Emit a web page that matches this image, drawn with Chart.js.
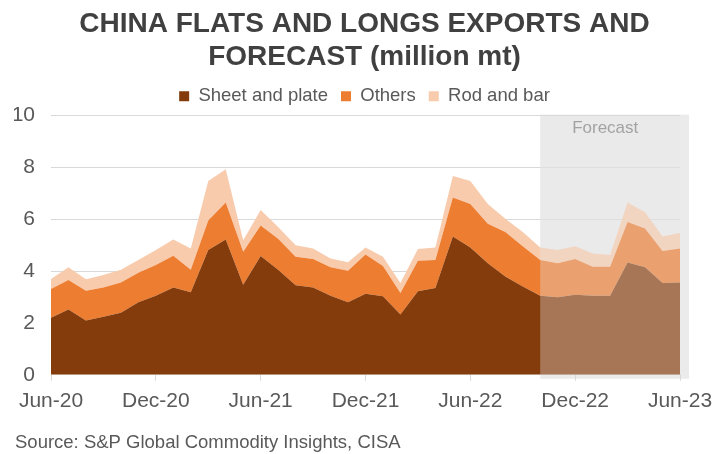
<!DOCTYPE html>
<html>
<head>
<meta charset="utf-8">
<script src="https://cdn.jsdelivr.net/npm/chart.js@4"></script>
<style>
  html, body { margin: 0; padding: 0; background: #fff; }
  #wrap { width: 715px; height: 454px; position: relative; }
</style>
</head>
<body>
<div id="wrap"><canvas id="chExports"></canvas></div>
<script>
const months = ['Jun-20','Jul-20','Aug-20','Sep-20','Oct-20','Nov-20','Dec-20','Jan-21','Feb-21','Mar-21','Apr-21','May-21',
  'Jun-21','Jul-21','Aug-21','Sep-21','Oct-21','Nov-21','Dec-21','Jan-22','Feb-22','Mar-22','Apr-22','May-22',
  'Jun-22','Jul-22','Aug-22','Sep-22','Oct-22','Nov-22','Dec-22','Jan-23','Feb-23','Mar-23','Apr-23','May-23','Jun-23'];

// million mt per month
const sheetPlate = [2.20,2.52,2.09,2.24,2.39,2.80,3.05,3.37,3.18,4.81,5.22,3.47,
  4.58,4.05,3.45,3.37,3.05,2.80,3.13,3.03,2.33,3.22,3.35,5.34,
  4.91,4.30,3.79,3.41,3.05,2.99,3.09,3.05,3.05,4.33,4.15,3.54,3.56];
const others = [1.11,1.14,1.15,1.13,1.17,1.14,1.19,1.22,0.87,1.14,1.43,1.28,
  1.18,1.20,1.10,1.10,1.10,1.21,1.51,1.17,0.83,1.18,1.08,1.50,
  1.68,1.53,1.72,1.55,1.38,1.31,1.38,1.12,1.12,1.56,1.49,1.24,1.31];
const rodBar = [0.39,0.49,0.45,0.48,0.49,0.49,0.57,0.63,0.82,1.53,1.28,0.44,
  0.60,0.45,0.45,0.40,0.34,0.33,0.27,0.35,0.38,0.45,0.48,0.83,
  0.89,0.76,0.51,0.55,0.48,0.51,0.49,0.51,0.45,0.76,0.63,0.56,0.60];
const yTicks = [0, 2, 4, 6, 8, 10];
const forecastFrom = 'Oct-22';
const source = 'Source: S&P Global Commodity Insights, CISA';

const FONT = "'Liberation Sans', Arial, sans-serif";
const GREY = '#595959';

// grey forecast band behind the grid, then a light wash over the forecast areas
const forecastBand = {
  id: 'forecastBand',
  beforeDraw(chart) {
    const { ctx, chartArea: a, scales: { x } } = chart;
    const x0 = x.getPixelForValue(months.indexOf(forecastFrom));
    ctx.save();
    ctx.fillStyle = '#EBEBEB';
    ctx.fillRect(x0, a.top - 1, a.right + 9 - x0, a.bottom - a.top + 5);
    ctx.fillStyle = '#7F7F7F';
    ctx.font = '17px ' + FONT;
    ctx.textAlign = 'center';
    ctx.textBaseline = 'middle';
    ctx.fillText('Forecast', x0 + 65, a.top + 13);
    ctx.restore();
  },
  afterDatasetsDraw(chart) {
    const { ctx, chartArea: a, scales: { x } } = chart;
    const x0 = x.getPixelForValue(months.indexOf(forecastFrom));
    ctx.save();
    ctx.fillStyle = 'rgba(232,232,232,0.34)';
    ctx.fillRect(x0, a.top, a.right - x0, a.bottom - a.top);
    ctx.restore();
  },
  afterDraw(chart) {
    const { ctx } = chart;
    ctx.save();
    ctx.fillStyle = GREY;
    ctx.font = '18.5px ' + FONT;
    ctx.textAlign = 'left';
    ctx.textBaseline = 'middle';
    ctx.fillText(source, 15, 443);
    ctx.restore();
  }
};

function area(label, data, color, fill) {
  return { label, data, backgroundColor: color, borderColor: color, borderWidth: 0,
    pointRadius: 0, pointHoverRadius: 0, fill, tension: 0 };
}

new Chart(document.getElementById('chExports').getContext('2d'), {
  type: 'line',
  data: {
    labels: months,
    datasets: [
      area('Sheet and plate', sheetPlate, '#843C0C', 'origin'),
      area('Others', others, '#ED7D31', '-1'),
      area('Rod and bar', rodBar, '#F8CBAD', '-1')
    ]
  },
  options: {
    responsive: true,
    maintainAspectRatio: false,
    animation: false,
    layout: { padding: { left: 14, right: 0, top: 8, bottom: 32 } },
    plugins: {
      title: {
        display: true,
        text: ['CHINA FLATS AND LONGS EXPORTS AND', 'FORECAST (million mt)'],
        color: '#404040',
        font: { family: FONT, size: 28, weight: 'bold', lineHeight: 1.18 },
        padding: { top: 0, bottom: 0 }
      },
      legend: {
        position: 'top',
        labels: { color: GREY, boxWidth: 10, boxHeight: 10, padding: 13,
          font: { family: FONT, size: 18.5 } }
      },
      tooltip: { enabled: false }
    },
    scales: {
      x: {
        afterFit: s => { s.paddingRight = 35; s.paddingLeft = 0; },
        grid: { drawOnChartArea: false, drawTicks: true, tickLength: 6,
          color: c => (c.index % 6 === 0 ? '#D9D9D9' : 'rgba(0,0,0,0)') },
        border: { color: '#D9D9D9' },
        ticks: { autoSkip: false, maxRotation: 0, color: GREY, padding: 8,
          font: { family: FONT, size: 21 },
          callback: (v, i) => (i % 6 === 0 ? months[i] : '') }
      },
      y: {
        stacked: true,
        min: 0, max: 10,
        afterBuildTicks: s => { s.ticks = yTicks.map(v => ({ value: v })); },
        afterFit: s => { s.width = 37; },
        grid: { color: '#D9D9D9', drawTicks: false },
        border: { display: false },
        ticks: { color: GREY, padding: 16, font: { family: FONT, size: 21 } }
      }
    }
  },
  plugins: [forecastBand]
});
</script>
</body>
</html>
